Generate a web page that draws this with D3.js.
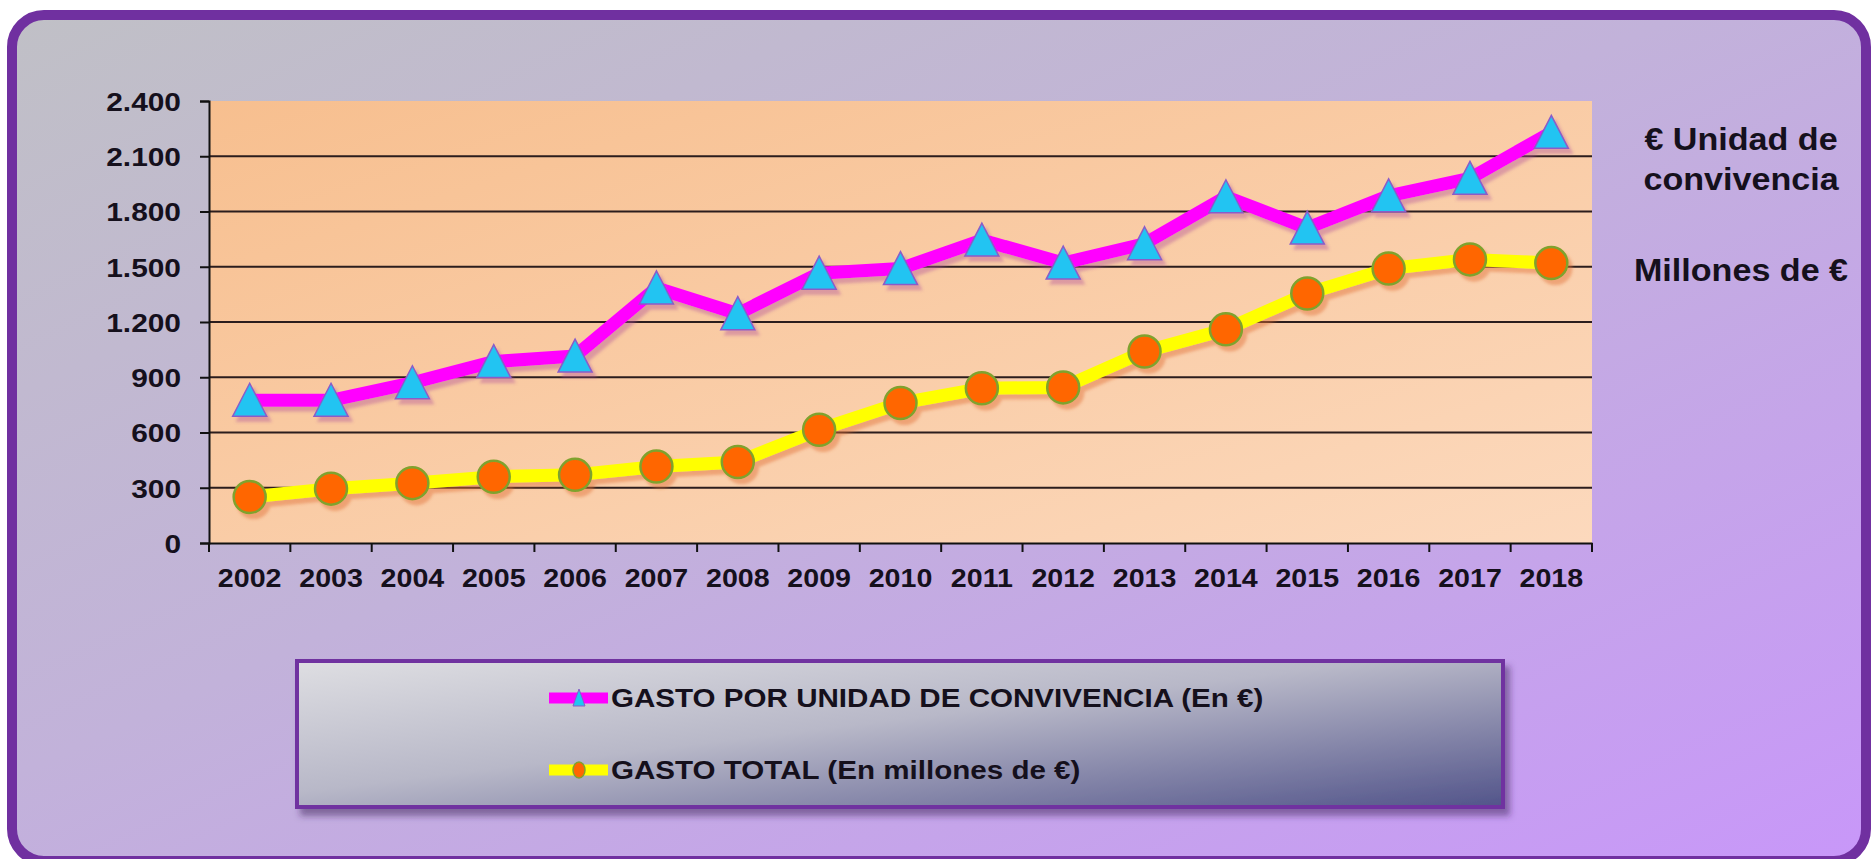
<!DOCTYPE html>
<html><head><meta charset="utf-8">
<script src="https://cdn.jsdelivr.net/npm/d3@7"></script>
<style>html,body{margin:0;padding:0;background:#fff;overflow:hidden}</style>
</head><body>
<svg id="chart" width="1874" height="859"></svg>
<script>
const years = ["2002","2003","2004","2005","2006","2007","2008","2009","2010","2011","2012","2013","2014","2015","2016","2017","2018"];
const gastoUnidad = [775,775,870,985,1015,1385,1245,1465,1490,1645,1520,1625,1880,1710,1885,1980,2230];
const gastoTotal = [250,295,325,360,370,415,440,615,760,840,845,1040,1160,1355,1490,1540,1520];
const yTicks = [0,300,600,900,1200,1500,1800,2100,2400];
const seriesNames = ["GASTO POR UNIDAD DE CONVIVENCIA (En €)","GASTO TOTAL (En millones de €)"];
const sideLabels = ["€ Unidad de","convivencia","Millones de €"];

const W = 1874, H = 859;
const FONT = "'Liberation Sans', Arial, sans-serif";
const SX = 1.15; // horizontal text stretch of original
const svg = d3.select("#chart");
const defs = svg.append("defs");

function lg(id, stops, x1="0", y1="0", x2="1", y2="1") {
  const g = defs.append("linearGradient").attr("id", id)
    .attr("x1", x1).attr("y1", y1).attr("x2", x2).attr("y2", y2);
  stops.forEach(([o, c]) => g.append("stop").attr("offset", o).attr("stop-color", c));
}
lg("bgGrad", [[0, "#c0c0c6"], [0.45, "#c2b2da"], [1, "#c897f9"]], "0", "0", "1", "1");
lg("plotGrad", [[0, "#f7bf8f"], [1, "#fcd9bd"]], "0", "0", "1", "1");
lg("legGrad", [[0, "#dedee2"], [0.45, "#b8b8c8"], [1, "#52548a"]], "0", "0", "1", "1");

function shadow(id, color, op, dx, dy, sd) {
  const f = defs.append("filter").attr("id", id).attr("x", "-20%").attr("y", "-20%").attr("width", "140%").attr("height", "140%");
  f.append("feDropShadow").attr("dx", dx).attr("dy", dy).attr("stdDeviation", sd)
    .attr("flood-color", color).attr("flood-opacity", op);
}
shadow("shMag", "#b0509a", 0.4, 4, 5, 1.5);
shadow("shYel", "#e07030", 0.45, 4, 5, 1.5);
shadow("shBox", "#3a1a5a", 0.5, 5, 7, 3);

// background frame
svg.append("rect").attr("x", 12).attr("y", 15).attr("width", W - 20).attr("height", H - 13)
  .attr("rx", 32).attr("fill", "url(#bgGrad)").attr("stroke", "#7030a0").attr("stroke-width", 10);

const M = {l: 209, r: 1592, t: 101, b: 543};
const x = d3.scaleBand().domain(years).range([M.l, M.r]).padding(0);
const y = d3.scaleLinear().domain([0, 2400]).range([M.b, M.t]);
const loc = d3.formatLocale({decimal: ",", thousands: ".", grouping: [3], currency: ["", "€"]});
const fmt = loc.format(",d");

// plot area
svg.append("rect").attr("x", M.l).attr("y", M.t).attr("width", M.r - M.l).attr("height", M.b - M.t)
  .attr("fill", "url(#plotGrad)");

// gridlines
svg.append("g").selectAll("line").data(yTicks.filter(d => d > 0 && d < 2400)).join("line")
  .attr("x1", M.l).attr("x2", M.r).attr("y1", d => y(d)).attr("y2", d => y(d))
  .attr("stroke", "#2b1d1d").attr("stroke-width", 2);

function styleText(sel) {
  sel.attr("font-family", FONT).attr("font-weight", "bold").attr("fill", "#15101c");
}

// y axis
const yAxis = svg.append("g").attr("transform", `translate(${M.l},0)`)
  .call(d3.axisLeft(y).tickValues(yTicks).tickFormat(fmt).tickSize(9).tickPadding(19));
yAxis.select(".domain").attr("stroke", "#111").attr("stroke-width", 2);
yAxis.selectAll(".tick line").attr("stroke", "#111").attr("stroke-width", 2);
yAxis.selectAll(".tick text").call(styleText).attr("font-size", 26)
  .attr("x", -28 / SX).attr("transform", `scale(${SX},1)`).attr("dy", "0.36em");

// x axis
const xAxis = svg.append("g").attr("transform", `translate(0,${M.b})`)
  .call(d3.axisBottom(x).tickSize(0).tickPadding(26));
xAxis.select(".domain").attr("stroke", "#111").attr("stroke-width", 2);
xAxis.selectAll(".tick text").call(styleText).attr("font-size", 26)
  .attr("transform", `scale(1.1,1)`);
// boundary ticks
const bounds = years.map(d => x(d)).concat([x(years[years.length - 1]) + x.bandwidth()]);
xAxis.append("g").selectAll("line").data(bounds).join("line")
  .attr("x1", d => d).attr("x2", d => d).attr("y1", 0).attr("y2", 9)
  .attr("stroke", "#111").attr("stroke-width", 2);

const cx = d => x(d) + x.bandwidth() / 2;
const line = d3.line().x(d => cx(d[0])).y(d => y(d[1]));
const triPath = "M0,-17L17,16L-17,16Z";

const d1 = years.map((yr, i) => [yr, gastoUnidad[i]]);
const d2 = years.map((yr, i) => [yr, gastoTotal[i]]);

// series 2 (yellow)
const g2 = svg.append("g").attr("filter", "url(#shYel)");
g2.append("path").datum(d2).attr("d", line).attr("fill", "none")
  .attr("stroke", "#ffff00").attr("stroke-width", 13).attr("stroke-linejoin", "round");
g2.selectAll("circle").data(d2).join("circle")
  .attr("cx", d => cx(d[0])).attr("cy", d => y(d[1])).attr("r", 16)
  .attr("fill", "#ff6600").attr("stroke", "#7fa22e").attr("stroke-width", 2.5);

// series 1 (magenta)
const g1 = svg.append("g").attr("filter", "url(#shMag)");
g1.append("path").datum(d1).attr("d", line).attr("fill", "none")
  .attr("stroke", "#ff00ff").attr("stroke-width", 13).attr("stroke-linejoin", "round");
g1.selectAll("path.tri").data(d1).join("path").attr("class", "tri")
  .attr("d", triPath).attr("transform", d => `translate(${cx(d[0])},${y(d[1])})`)
  .attr("fill", "#22c4f2").attr("stroke", "#8a5cc8").attr("stroke-width", 1.5);

// side labels
const sideY = [150, 190, 281];
svg.append("g").selectAll("text").data(sideLabels).join("text")
  .call(styleText).attr("font-size", 31).attr("text-anchor", "middle")
  .attr("transform", (d, i) => `translate(1741,${sideY[i]}) scale(1.1,1)`)
  .text(d => d);

// legend
const LB = {x: 297, y: 661, w: 1206, h: 146};
svg.append("rect").attr("x", LB.x).attr("y", LB.y).attr("width", LB.w).attr("height", LB.h)
  .attr("fill", "url(#legGrad)").attr("stroke", "#7030a0").attr("stroke-width", 4)
  .attr("filter", "url(#shBox)");
const legY = [698, 770];
const legColors = ["#ff00ff", "#ffff00"];
const leg = svg.append("g").selectAll("g").data(seriesNames).join("g")
  .attr("transform", (d, i) => `translate(0,${legY[i]})`);
leg.append("line").attr("x1", 549).attr("x2", 608).attr("y1", 0).attr("y2", 0)
  .attr("stroke", (d, i) => legColors[i]).attr("stroke-width", 11);
leg.filter((d, i) => i === 0).append("path").attr("d", "M0,-9L6,8L-6,8Z")
  .attr("transform", "translate(579,0)").attr("fill", "#22c4f2").attr("stroke", "#8a5cc8").attr("stroke-width", 1);
leg.filter((d, i) => i === 1).append("ellipse").attr("cx", 579).attr("cy", 0).attr("rx", 6).attr("ry", 8)
  .attr("fill", "#ff6600").attr("stroke", "#7fa22e").attr("stroke-width", 1.5);
leg.append("text").call(styleText).attr("font-size", 25.5)
  .attr("transform", `translate(611,9) scale(1.16,1)`).text(d => d);
</script>
</body></html>
